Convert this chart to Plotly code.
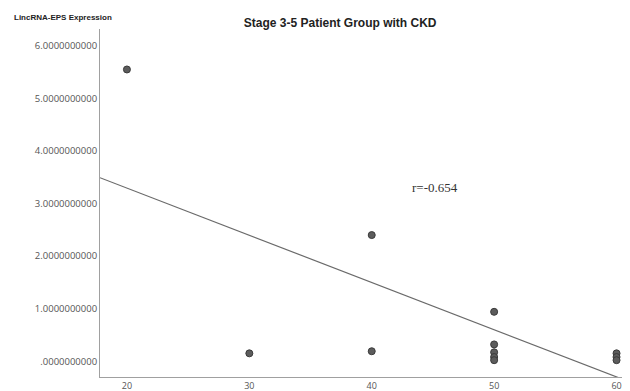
import plotly.graph_objects as go

age = [20, 30, 40, 40, 50, 50, 50, 50, 50, 60, 60, 60]
expression = [5.55, 0.15, 2.40, 0.19, 0.94, 0.32, 0.17, 0.08, 0.02, 0.15, 0.08, 0.02]

fit_intercept = 5.09
fit_slope = -0.0898
fit_x = [17.8, 61.1]
fit_y = [fit_intercept + fit_slope * x for x in fit_x]

y_ticks = [0, 1, 2, 3, 4, 5, 6]
y_tick_text = [".0000000000", "1.0000000000", "2.0000000000", "3.0000000000",
               "4.0000000000", "5.0000000000", "6.0000000000"]
x_ticks = [20, 30, 40, 50, 60]

fig = go.Figure()
fig.add_trace(go.Scatter(x=fit_x, y=fit_y, mode="lines",
                         line=dict(color="#6a6a6a", width=1.2), hoverinfo="skip"))
fig.add_trace(go.Scatter(x=age, y=expression, mode="markers",
                         marker=dict(size=7, color="#5c5c5c",
                                     line=dict(color="#3a3a3a", width=1))))

# page body has an 8px margin, so the figure is sized to fill the rest of the window
fig.update_layout(
    width=622, height=383,
    margin=dict(l=92, r=0, t=21, b=14, autoexpand=False),
    paper_bgcolor="white", plot_bgcolor="white",
    showlegend=False,
    title=dict(text="<b>Stage 3-5 Patient Group with CKD</b>",
               font=dict(family="Liberation Sans, Arial", size=12, color="#222"),
               x=0.534, xanchor="center", y=0.961, yanchor="middle"),
    xaxis=dict(range=[17.8, 61.1], tickvals=x_ticks, showgrid=False, zeroline=False,
               showline=True, linecolor="#a0a0a0", linewidth=1, ticks="",
               automargin=False,
               tickfont=dict(family="Open Sans", size=9, color="#555")),
    yaxis=dict(range=[-0.30, 6.32], tickvals=y_ticks, ticktext=y_tick_text,
               showgrid=False, zeroline=False, showline=True, linecolor="#a0a0a0",
               linewidth=1, ticks="", automargin=False,
               tickfont=dict(family="Open Sans", size=9.5, color="#555")),
    annotations=[
        dict(text="<b>LincRNA-EPS Expression</b>", xref="paper", yref="paper",
             x=-0.166, y=1.034, xanchor="left", yanchor="middle", showarrow=False,
             font=dict(family="Liberation Sans, Arial", size=8, color="#222")),
        dict(text="r=-0.654", xref="x", yref="y", x=45.2, y=3.31,
             xanchor="center", yanchor="middle", showarrow=False,
             font=dict(family="Liberation Serif, Times New Roman", size=13, color="#333")),
    ],
)

fig.write_html("out.html")
